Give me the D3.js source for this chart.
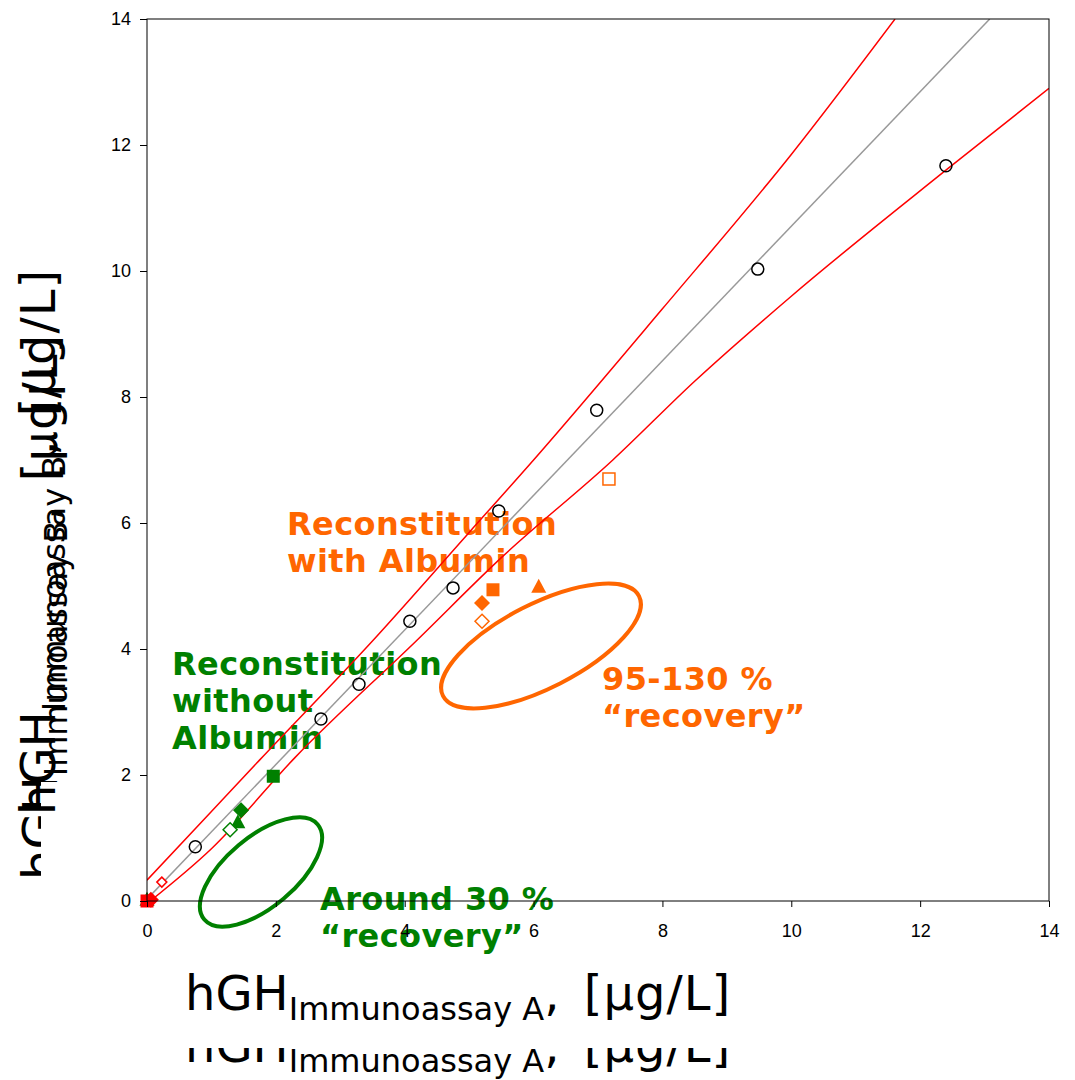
<!DOCTYPE html>
<html>
<head>
<meta charset="utf-8">
<script src="https://cdn.jsdelivr.net/npm/d3@7"></script>
<style>
  body { margin: 0; background: #fff; }
  svg { display: block; }
</style>
</head>
<body>
<div id="chart"></div>
<script>
// data
const xTicks = [0, 2, 4, 6, 8, 10, 12, 14]
const yTicks = [0, 2, 4, 6, 8, 10, 12, 14]

const circleX = [0.75, 2.70, 3.29, 4.08, 4.75, 5.46, 6.98, 9.48, 12.40]
const circleY = [0.86, 2.89, 3.44, 4.44, 4.97, 6.19, 7.79, 10.03, 11.67]

const fitLine = [[0, 0.03], [13.08, 14]]
const upperBand = [[0, 0.33], [1, 1.42], [1.75, 2.24], [3.51, 4.14], [5, 5.85], [6, 7.0], [8, 9.4], [10, 11.85], [11.61, 14]]
const lowerBand = [[0.05, 0], [1, 0.83], [2.3, 2.28], [4.19, 4.14], [5.5, 5.45], [7.23, 7.0], [8.5, 8.25], [10, 9.6], [12.4, 11.6], [14, 12.9]]

const greenShapes = ["triangle", "square", "diamond", "triangle", "diamondOpen"]
const greenX = [0.0, 1.96, 1.46, 1.41, 1.29]
const greenY = [0.02, 1.98, 1.44, 1.25, 1.13]

const orangeShapes = ["square", "diamond", "triangle", "diamondOpen", "squareOpen"]
const orangeX = [5.37, 5.20, 6.08, 5.20, 7.17]
const orangeY = [4.94, 4.73, 4.99, 4.44, 6.70]

const redShapes = ["diamondSmall", "diamond", "square"]
const redX = [0.23, 0.06, 0.0]
const redY = [0.30, 0.02, 0.0]

// layout
const W = 1075, H = 1080
const m = {left: 147, right: 1049, top: 19, bottom: 901}
const green = "#008000", orange = "#ff6600", red = "#ff0000"

const svg = d3.select("#chart").append("svg")
    .attr("width", W)
    .attr("height", H)

const x = d3.scaleLinear().domain([0, 14]).range([m.left, m.right])
const y = d3.scaleLinear().domain([0, 14]).range([m.bottom, m.top])

// annotation texts (drawn first, they sit behind the lines)
function note(lines, px, py, color){
    const t = svg.append("text")
        .attr("x", px).attr("y", py)
        .attr("fill", color)
        .style("font-family", "'DejaVu Sans', Verdana, sans-serif")
        .style("font-weight", "bold")
        .style("font-size", "32px")
        .style("letter-spacing", "0.4px")
    lines.forEach((s, i) => {
        t.append("tspan").attr("x", px).attr("dy", i ? 37 : 0).text(s)
    })
}
note(["Reconstitution", "with Albumin"], 287, 535, orange)
note(["Reconstitution", "without", "Albumin"], 172, 675, green)
note(["95-130 %", "\u201crecovery\u201d"], 602, 690, orange)
note(["Around 30 %", "\u201crecovery\u201d"], 320, 910, green)

// ellipses
function ring(cx, cy, rx, ry, angle, color){
    svg.append("ellipse")
        .attr("transform", `translate(${cx},${cy}) rotate(${angle})`)
        .attr("rx", rx).attr("ry", ry)
        .attr("fill", "none")
        .attr("stroke", color)
        .attr("stroke-width", 4)
}
ring(261, 872, 74, 35, -40, green)
ring(541, 646, 110, 42, -27, orange)

// lines
const line = d3.line().x(d => x(d[0])).y(d => y(d[1]))
const curve = d3.line().x(d => x(d[0])).y(d => y(d[1])).curve(d3.curveMonotoneX)

const plot = svg.append("g")
plot.append("clipPath").attr("id", "clip")
    .append("rect").attr("x", m.left).attr("y", m.top).attr("width", m.right - m.left).attr("height", m.bottom - m.top)
const clipped = plot.append("g").attr("clip-path", "url(#clip)")

clipped.append("path").datum(fitLine)
    .attr("d", line).attr("fill", "none").attr("stroke", "#999").attr("stroke-width", 1.5)
clipped.append("path").datum(upperBand)
    .attr("d", curve).attr("fill", "none").attr("stroke", red).attr("stroke-width", 1.5)
clipped.append("path").datum(lowerBand)
    .attr("d", curve).attr("fill", "none").attr("stroke", red).attr("stroke-width", 1.5)

// markers
function isOpen(s){ return s.endsWith("Open") || s === "diamondSmall" }
function shapePath(s){
    if (s.startsWith("square")) { const h = s === "squareOpen" ? 6 : 6.5; return `M${-h},${-h}H${h}V${h}H${-h}Z` }
    if (s === "diamondSmall") return "M0,-5L5,0L0,5L-5,0Z"
    if (s.startsWith("diamond")) { const r = s === "diamondOpen" ? 7 : 8; return `M0,${-r}L${r},0L0,${r}L${-r},0Z` }
    return "M0,-8L7.5,6L-7.5,6Z"
}
function drawSeries(xs, ys, shapes, color){
    const g = plot.append("g")
    g.selectAll("path").data(xs).join("path")
        .attr("transform", (d, i) => `translate(${x(d)},${y(ys[i])})`)
        .attr("d", (d, i) => shapePath(shapes[i]))
        .attr("fill", (d, i) => isOpen(shapes[i]) ? "#fff" : color)
        .attr("stroke", color)
        .attr("stroke-width", (d, i) => isOpen(shapes[i]) ? 1.5 : 0)
}
drawSeries(greenX, greenY, greenShapes, green)
drawSeries(orangeX, orangeY, orangeShapes, orange)
drawSeries(redX, redY, redShapes, red)

plot.append("g").selectAll("circle").data(circleX).join("circle")
    .attr("cx", d => x(d))
    .attr("cy", (d, i) => y(circleY[i]))
    .attr("r", 6)
    .attr("fill", "none")
    .attr("stroke", "#000")
    .attr("stroke-width", 1.5)

// axes
const xAxis = svg.append("g")
    .attr("transform", `translate(0,${m.bottom})`)
    .call(d3.axisBottom(x).tickValues(xTicks).tickSize(6).tickPadding(17).tickFormat(d3.format("d")))
const yAxis = svg.append("g")
    .attr("transform", `translate(${m.left},0)`)
    .call(d3.axisLeft(y).tickValues(yTicks).tickSize(7).tickPadding(9).tickFormat(d3.format("d")))
;[xAxis, yAxis].forEach(a => {
    a.select(".domain").remove()
    a.selectAll("line").attr("stroke", "#000")
    a.selectAll("text")
        .attr("fill", "#000")
        .style("font-family", "'Liberation Sans', Arial, sans-serif")
        .style("font-size", "18px")
})
svg.append("rect")
    .attr("x", m.left).attr("y", m.top)
    .attr("width", m.right - m.left).attr("height", m.bottom - m.top)
    .attr("fill", "none").attr("stroke", "#000").attr("stroke-width", 1)

// axis titles, each one drawn twice like in the original slide
function title(g, sub){
    const t = g.append("text")
        .style("font-family", "'DejaVu Sans', Verdana, sans-serif")
        .style("font-size", "48px")
        .attr("fill", "#000")
    t.append("tspan").text("hGH")
    t.append("tspan").attr("dy", 10).style("font-size", "32px").text(sub)
    t.append("tspan").attr("dy", -10).text(",")
    t.append("tspan").attr("dx", 8).style("letter-spacing", "1px").text(" [\u00b5g/L]")
}

// x title: lower copy partly hidden
title(svg.append("g").attr("transform", "translate(185,1062)"), "Immunoassay A")
svg.append("rect").attr("x", 150).attr("y", 1018).attr("width", 700).attr("height", 30).attr("fill", "#fff")
title(svg.append("g").attr("transform", "translate(185,1010)"), "Immunoassay A")

// y title: lower copy partly hidden
title(svg.append("g").attr("transform", "translate(57,880) rotate(-90)"), "Immunoassay B")
svg.append("rect").attr("x", 41).attr("y", 782).attr("width", 18).attr("height", 110).attr("fill", "#fff")
title(svg.append("g").attr("transform", "translate(55,815) rotate(-90)"), "Immunoassay B")
</script>
</body>
</html>
